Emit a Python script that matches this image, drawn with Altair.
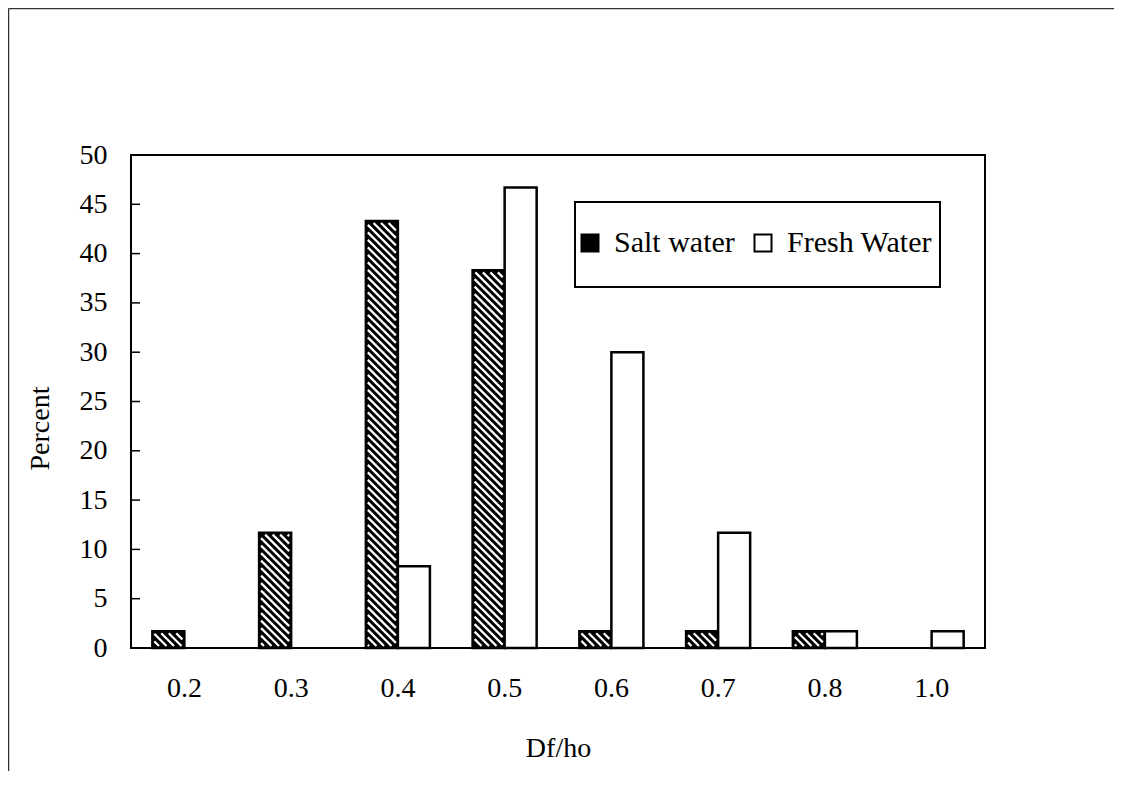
import altair as alt
import pandas as pd
import math

# ---------------- data ----------------
categories = ["0.2", "0.3", "0.4", "0.5", "0.6", "0.7", "0.8", "1.0"]
salt_water = [1.7, 11.7, 43.3, 38.3, 1.7, 1.7, 1.7, 0.0]
fresh_water = [0.0, 0.0, 8.3, 46.7, 30.0, 11.7, 1.7, 1.7]
series_names = ["Salt water", "Fresh Water"]
y_ticks = [0, 5, 10, 15, 20, 25, 30, 35, 40, 45, 50]

FONT = "Liberation Serif"
W, H = 854, 493
YMAX = 50
P_INNER, P_OUTER = 0.4, 0.2

rows = []
for c, s, f in zip(categories, salt_water, fresh_water):
    if s > 0:
        rows.append({"cat": c, "series": series_names[0], "value": s})
    if f > 0:
        rows.append({"cat": c, "series": series_names[1], "value": f})
bars_df = pd.DataFrame(rows)

# hatch lines ("\" direction) for the salt-water bars, derived from the values
step_px = W / len(categories)
ppu = H / YMAX
spacing = 7.5
inset = 2.0
hatch = []
for i, v in enumerate(salt_water):
    if v <= 0:
        continue
    x0 = (i + P_OUTER) * step_px + inset
    x1 = (i + P_OUTER + (1 - P_INNER) / 2) * step_px - inset
    y0 = inset
    y1 = v * ppu - inset
    k0 = math.floor((x0 + y0) / spacing)
    k1 = math.ceil((x1 + y1) / spacing)
    for k in range(k0, k1 + 1):
        cc = k * spacing
        xa = max(x0, cc - y1)
        xb = min(x1, cc - y0)
        if xb - xa > 0.8:
            hatch.append({"hx": xa / step_px, "hy": (cc - xa) / ppu,
                          "hx2": xb / step_px, "hy2": (cc - xb) / ppu})
hatch_df = pd.DataFrame(hatch)
ticks_df = pd.DataFrame({"t": y_ticks})
one = pd.DataFrame({"a": [0]})

yscale = alt.Scale(domain=[0, YMAX], nice=False)
yaxis = alt.Axis(values=y_ticks, ticks=False, tickSize=0, domain=False,
                 grid=False, labelPadding=24, titlePadding=25, titleY=273)

bars = alt.Chart(bars_df).mark_bar(stroke="black", strokeWidth=2.5).encode(
    x=alt.X("cat:N", sort=categories, title="Df/ho",
            scale=alt.Scale(paddingInner=P_INNER, paddingOuter=P_OUTER),
            axis=alt.Axis(labelAngle=0, ticks=False, tickSize=0, domain=False,
                          labelPadding=26, titlePadding=32)),
    xOffset=alt.XOffset("series:N", sort=series_names,
                        scale=alt.Scale(paddingInner=0, paddingOuter=0)),
    y=alt.Y("value:Q", scale=yscale, title="Percent", axis=yaxis),
    fill=alt.Fill("series:N", sort=series_names,
                  scale=alt.Scale(domain=series_names, range=["black", "white"]),
                  legend=alt.Legend(orient="none", legendX=444, legendY=73,
                                    direction="horizontal", title=None,
                                    symbolType="square", symbolSize=289,
                                    symbolStrokeColor="black", symbolStrokeWidth=2,
                                    symbolOpacity=1,
                                    labelFont=FONT, labelFontSize=30,
                                    labelColor="black", labelOffset=9,
                                    columnPadding=13, padding=0,
                                    labelLimit=400)),
)

hatch_layer = alt.Chart(hatch_df).mark_rule(color="white", strokeWidth=2.2).encode(
    x=alt.X("hx:Q", scale=alt.Scale(domain=[0, len(categories)], nice=False, zero=False),
            axis=None),
    x2="hx2:Q",
    y=alt.Y("hy:Q", scale=yscale, title="Percent", axis=yaxis),
    y2="hy2:Q",
)

tick_layer = alt.Chart(ticks_df).mark_rule(color="black", strokeWidth=1.5).encode(
    y=alt.Y("t:Q", scale=yscale, title="Percent", axis=yaxis),
    x=alt.value(0),
    x2=alt.value(9),
)

legend_box = alt.Chart(one).mark_rect(fill="white", stroke="black", strokeWidth=2).encode(
    x=alt.value(444), x2=alt.value(809), y=alt.value(47), y2=alt.value(132)
)

frame_left = alt.Chart(one).mark_rule(color="#333333", strokeWidth=1.5, clip=False).encode(
    x=alt.value(-122.5), y=alt.value(-146.5), y2=alt.value(623)
)
frame_top = alt.Chart(one).mark_rule(color="#333333", strokeWidth=1.5, clip=False).encode(
    x=alt.value(-122.5), x2=alt.value(983), y=alt.value(-146.5)
)

chart = alt.layer(
    frame_left, frame_top, legend_box, bars, hatch_layer, tick_layer
).resolve_scale(x="independent").properties(
    width=W, height=H,
    autosize=alt.AutoSizeParams(type="none"),
    padding={"left": 123, "top": 147, "right": 129, "bottom": 123},
    background="white",
).configure_view(
    stroke="black", strokeWidth=2
).configure_axis(
    labelFont=FONT, labelFontSize=28, labelColor="black",
    titleFont=FONT, titleFontSize=28, titleColor="black", titleFontWeight="normal",
    grid=False,
)

chart.save("out.html", embed_options={"renderer": "svg", "actions": False})
